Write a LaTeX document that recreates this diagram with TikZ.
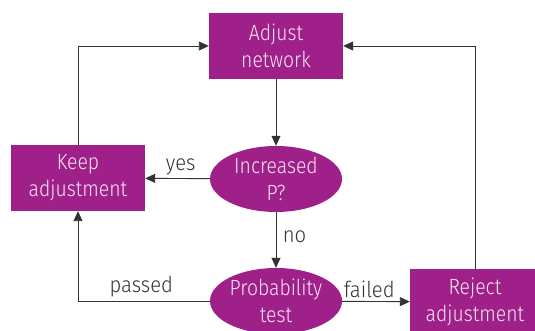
\documentclass[tikz,border=0pt]{standalone}
\usepackage{fontspec}
\setmainfont{Fira Sans Light}[FakeStretch=0.88]
\newfontfamily\labelfont{Fira Sans Light}[FakeStretch=0.92]
\usepackage{tikz}
\usetikzlibrary{arrows.meta,shapes.geometric}

\definecolor{boxpurple}{HTML}{9F2089}
\definecolor{boxtext}{HTML}{F7E6F3}
\definecolor{linegrey}{HTML}{333333}

\tikzset{
    stepbox/.style={rectangle, fill=boxpurple, text=boxtext, minimum width=134pt,
        minimum height=66pt, inner sep=0pt, align=center},
    testbox/.style={ellipse, fill=boxpurple, text=boxtext, minimum width=132pt,
        minimum height=66pt, inner sep=0pt, align=center},
    flow/.style={draw=linegrey, line width=0.9pt, -{Triangle[length=10pt,width=9pt]}},
    flowlabel/.style={text=linegrey, font=\labelfont\fontsize{22}{27}\selectfont}
}

\begin{document}
\begin{tikzpicture}[x=1pt, y=1pt, font=\fontsize{22}{27}\selectfont]
        \useasboundingbox (0,0) rectangle (535,331);

        % Boxes
        \node [stepbox] (adjust) at (276, 285) {Adjust\\network};
        \node [stepbox] (keep) at (78, 153) {Keep\\adjustment};
        \node [stepbox, minimum width=130pt] (reject) at (475, 29) {Reject\\adjustment};

        % Tests
        \node [testbox] (incr) at (276, 152) {Increased\\P?};
        \node [testbox] (prob) at (276, 30) {Probability\\test};

        % Arrows
        \draw [flow] (adjust) -- (incr);
        \draw [flow] (incr) -- (keep) node [flowlabel, pos=0.45, above] {yes};
        \draw [flow] (incr) -- (prob) node [flowlabel, pos=0.45, right, xshift=3pt] {no};
        \draw [flow] (prob.west) -| (keep.south) node [flowlabel, pos=0.26, above] {passed};
        \draw [flow] (prob) -- (reject) node [flowlabel, pos=0.4, above] {failed};
        \draw [flow] (keep.north) |- (adjust.west);
        \draw [flow] (reject.north) |- (adjust.east);
    \end{tikzpicture}
\end{document}
